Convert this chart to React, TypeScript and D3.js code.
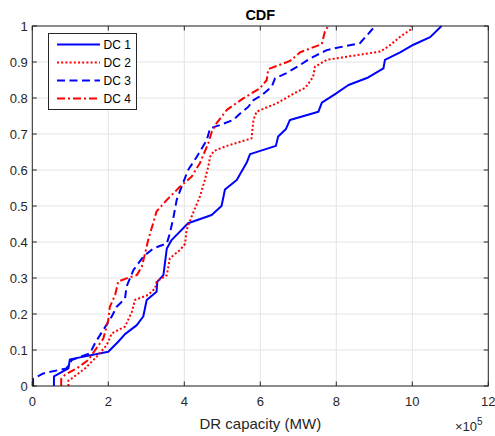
import React from "react";
import * as d3 from "d3";

type Pt = [number, number];

const seriesNames = ["DC 1", "DC 2", "DC 3", "DC 4"];
const seriesColors = ["#0000ff", "#ff0000", "#0000ff", "#ff0000"];
const seriesDash = ["", "2,2.2", "8,4.5", "8,3,2,3"];

const dc1: Pt[] = [[0.57,0],[0.57,0.027],[0.95,0.049],[0.99,0.074],[2.0,0.095],[2.26,0.123],[2.44,0.144],[2.75,0.169],[2.92,0.193],[3.01,0.239],[3.27,0.262],[3.29,0.29],[3.45,0.308],[3.54,0.382],[3.67,0.406],[4.1,0.452],[4.72,0.475],[4.98,0.5],[5.07,0.546],[5.38,0.572],[5.64,0.62],[5.73,0.644],[6.41,0.667],[6.47,0.693],[6.67,0.713],[6.78,0.739],[7.53,0.762],[7.62,0.787],[7.97,0.811],[8.32,0.836],[8.84,0.857],[9.24,0.882],[9.28,0.906],[9.68,0.927],[10.03,0.948],[10.47,0.969],[10.77,1.0]];
const dc2: Pt[] = [[0.95,0],[0.95,0.015],[1.04,0.021],[1.39,0.049],[1.69,0.081],[1.96,0.114],[2.09,0.146],[2.44,0.165],[2.62,0.206],[2.7,0.239],[3.05,0.253],[3.23,0.271],[3.27,0.29],[3.54,0.308],[3.62,0.355],[3.89,0.378],[4.02,0.395],[4.06,0.433],[4.19,0.47],[4.41,0.526],[4.54,0.572],[4.63,0.609],[4.68,0.637],[4.78,0.653],[5.12,0.667],[5.77,0.688],[5.82,0.739],[5.9,0.762],[6.43,0.785],[6.96,0.817],[7.18,0.828],[7.3,0.845],[7.39,0.859],[7.44,0.887],[7.75,0.906],[9.15,0.929],[9.37,0.943],[9.68,0.97],[9.94,0.989],[9.98,1.0]];
const dc3: Pt[] = [[0.02,0],[0.02,0.02],[0.29,0.035],[0.9,0.049],[1.04,0.072],[1.52,0.091],[1.65,0.119],[1.87,0.156],[2.09,0.193],[2.22,0.22],[2.44,0.243],[2.48,0.276],[2.66,0.322],[2.92,0.359],[3.18,0.382],[3.54,0.396],[3.62,0.424],[3.71,0.466],[3.8,0.517],[3.93,0.554],[4.1,0.6],[4.33,0.637],[4.59,0.683],[4.68,0.716],[4.94,0.725],[5.29,0.739],[5.47,0.757],[5.68,0.775],[5.82,0.794],[6.04,0.808],[6.3,0.831],[6.39,0.855],[6.69,0.869],[7.05,0.892],[7.31,0.91],[7.75,0.933],[8.18,0.943],[8.62,0.952],[8.89,0.984],[9.02,1.0]];
const dc4: Pt[] = [[0.76,0],[0.76,0.02],[0.86,0.031],[1.17,0.049],[1.47,0.072],[1.69,0.105],[1.87,0.132],[2.0,0.183],[2.04,0.22],[2.18,0.253],[2.26,0.29],[2.48,0.299],[2.75,0.308],[2.88,0.331],[2.97,0.369],[3.05,0.406],[3.18,0.452],[3.27,0.485],[3.54,0.517],[3.89,0.554],[4.19,0.581],[4.41,0.619],[4.63,0.674],[4.72,0.705],[4.85,0.73],[5.12,0.767],[5.55,0.799],[5.99,0.827],[6.17,0.85],[6.21,0.88],[6.78,0.903],[7.05,0.927],[7.62,0.95],[7.7,0.985],[7.79,1.0]];
const allSeries = [dc1, dc2, dc3, dc4];

const xTicks = [0, 2, 4, 6, 8, 10, 12];
const yTicks = [0, 0.1, 0.2, 0.3, 0.4, 0.5, 0.6, 0.7, 0.8, 0.9, 1];

const W = 495, H = 436;
const L = 32.3, R = 488.3, T = 26, B = 386;
const FONT = "'Liberation Sans', Arial, Helvetica, sans-serif";

export default function App() {
  const x = d3.scaleLinear().domain([0, 12]).range([L, R]);
  const y = d3.scaleLinear().domain([0, 1]).range([B, T]);
  const line = d3.line<Pt>().x(d => x(d[0])).y(d => y(d[1]));
  const axisColor = "#262626";
  const tickLen = 4.5;
  return (
    <svg width={W} height={H} style={{ position: "absolute", left: 0, top: 0, background: "#fff" }} fontFamily={FONT}>
      <rect x={0} y={0} width={W} height={H} fill="#fff" />
      <defs>
        <clipPath id="clip"><rect x={L - 1} y={T - 1} width={R - L + 2} height={B - T + 2} /></clipPath>
      </defs>
      {xTicks.map(t => (
        <line key={"gx" + t} x1={x(t)} x2={x(t)} y1={T} y2={B} stroke="#e3e3e3" strokeWidth={1} />
      ))}
      {yTicks.map(t => (
        <line key={"gy" + t} x1={L} x2={R} y1={y(t)} y2={y(t)} stroke="#e3e3e3" strokeWidth={1} />
      ))}
      <g clipPath="url(#clip)">
        {allSeries.map((s, i) => (
          <path key={i} d={line(s) || ""} fill="none" stroke={seriesColors[i]} strokeWidth={2}
            strokeDasharray={seriesDash[i] || undefined} strokeLinejoin="round" />
        ))}
      </g>
      <rect x={L} y={T} width={R - L} height={B - T} fill="none" stroke={axisColor} strokeWidth={1} />
      {xTicks.map(t => (
        <g key={"tx" + t}>
          <line x1={x(t)} x2={x(t)} y1={B} y2={B - tickLen} stroke={axisColor} />
          <line x1={x(t)} x2={x(t)} y1={T} y2={T + tickLen} stroke={axisColor} />
          <text x={x(t)} y={B + 20} textAnchor="middle" fontSize={13} fill={axisColor}>{t}</text>
        </g>
      ))}
      {yTicks.map(t => (
        <g key={"ty" + t}>
          <line x1={L} x2={L + tickLen} y1={y(t)} y2={y(t)} stroke={axisColor} />
          <line x1={R} x2={R - tickLen} y1={y(t)} y2={y(t)} stroke={axisColor} />
          <text x={L - 4.5} y={y(t) + 4.7} textAnchor="end" fontSize={13} fill={axisColor}>{String(t)}</text>
        </g>
      ))}
      <text x={(L + R) / 2} y={19.5} textAnchor="middle" fontSize={14.5} fontWeight="bold" fill="#000">CDF</text>
      <text x={(L + R) / 2} y={428.5} textAnchor="middle" fontSize={15} fill={axisColor}>DR capacity (MW)</text>
      <text x={455} y={431} fontSize={13} fill={axisColor}>
        <tspan>×10</tspan><tspan dy={-6} fontSize={10}>5</tspan>
      </text>
      <rect x={48.5} y={33.5} width={88} height={76} fill="#fff" stroke={axisColor} strokeWidth={1} />
      {seriesNames.map((n, i) => {
        const ly = 44.5 + i * 18;
        return (
          <g key={n}>
            <line x1={57} x2={100} y1={ly} y2={ly} stroke={seriesColors[i]} strokeWidth={2}
              strokeDasharray={seriesDash[i] || undefined} />
            <text x={103.5} y={ly + 4.5} fontSize={12} fill="#000">{n}</text>
          </g>
        );
      })}
    </svg>
  );
}
